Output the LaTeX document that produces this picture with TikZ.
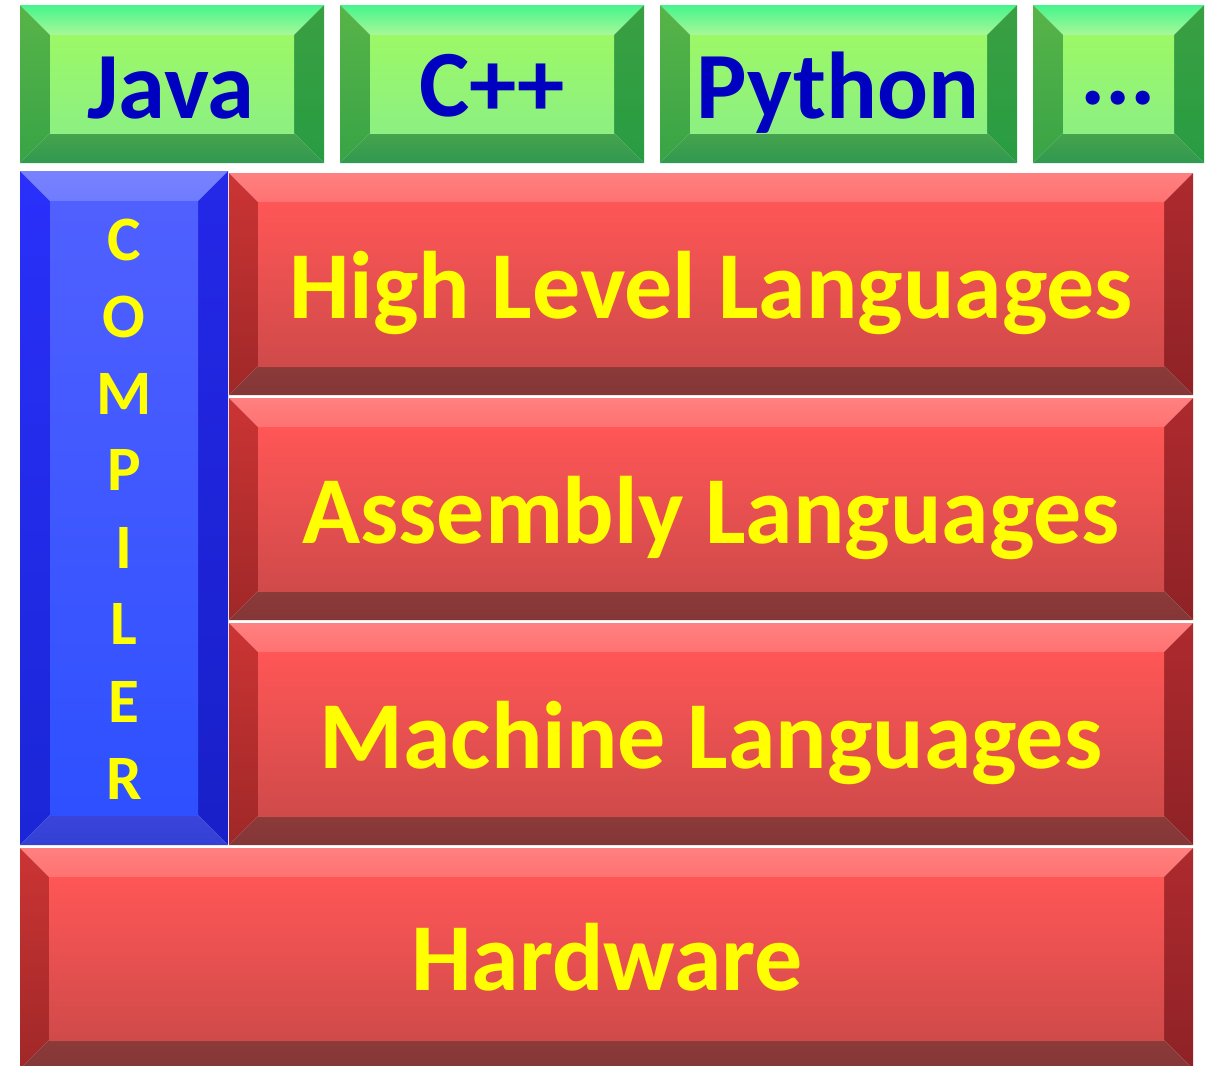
\documentclass[tikz,border=0pt]{standalone}
\usepackage{fontspec}
\setmainfont{Carlito}
\usetikzlibrary{calc}

% palettes: green (languages), blue (compiler), red (layers)
\definecolor{grtopA}{HTML}{45F58C}\definecolor{grtopB}{HTML}{A8F898}
\definecolor{grleftA}{HTML}{58B448}\definecolor{grleftM}{HTML}{82C448}\definecolor{grleftB}{HTML}{38A446}
\definecolor{grrightA}{HTML}{3AA042}\definecolor{grrightM}{HTML}{7CB840}\definecolor{grrightB}{HTML}{289C42}
\definecolor{grbotA}{HTML}{46A44C}\definecolor{grbotB}{HTML}{309850}
\definecolor{grinA}{HTML}{9CF866}\definecolor{grinM}{HTML}{C0FB66}\definecolor{grinB}{HTML}{8CF082}

\definecolor{bltopA}{HTML}{7882FF}\definecolor{bltopB}{HTML}{6E7CFF}
\definecolor{blleftA}{HTML}{2A30FA}\definecolor{blleftM}{HTML}{2430EC}\definecolor{blleftB}{HTML}{1A26D6}
\definecolor{blrightA}{HTML}{2428E8}\definecolor{blrightM}{HTML}{2026DC}\definecolor{blrightB}{HTML}{1820C8}
\definecolor{blbotA}{HTML}{3A44DC}\definecolor{blbotB}{HTML}{3440D4}
\definecolor{blinA}{HTML}{5060FF}\definecolor{blinM}{HTML}{4458FF}\definecolor{blinB}{HTML}{2E50FF}

\definecolor{rdtopA}{HTML}{FF8080}\definecolor{rdtopB}{HTML}{FF7272}
\definecolor{rdleftA}{HTML}{CC3434}\definecolor{rdleftM}{HTML}{B82E30}\definecolor{rdleftB}{HTML}{A02828}
\definecolor{rdrightA}{HTML}{AE2A2E}\definecolor{rdrightM}{HTML}{9E262A}\definecolor{rdrightB}{HTML}{8E2226}
\definecolor{rdbotA}{HTML}{8C3A3A}\definecolor{rdbotB}{HTML}{843636}
\definecolor{rdinA}{HTML}{FF5656}\definecolor{rdinM}{HTML}{E85050}\definecolor{rdinB}{HTML}{D04A4A}

\definecolor{langblue}{HTML}{0000C0}
\definecolor{labelyellow}{HTML}{FFFF00}

% bevelled box: #1 palette prefix, (#2,#3) top-left, (#4,#5) bottom-right, #6 bevel width
\newcommand{\bevelbox}[6]{%
  \shade[top color=#1topA, bottom color=#1topB]
    (#2,#3) -- (#4,#3) -- (#4-#6,#3+#6) -- (#2+#6,#3+#6) -- cycle;
  \shade[top color=#1leftA, middle color=#1leftM, bottom color=#1leftB]
    (#2,#3) -- (#2+#6,#3+#6) -- (#2+#6,#5-#6) -- (#2,#5) -- cycle;
  \shade[top color=#1rightA, middle color=#1rightM, bottom color=#1rightB]
    (#4,#3) -- (#4-#6,#3+#6) -- (#4-#6,#5-#6) -- (#4,#5) -- cycle;
  \shade[top color=#1botA, bottom color=#1botB]
    (#2,#5) -- (#2+#6,#5-#6) -- (#4-#6,#5-#6) -- (#4,#5) -- cycle;
  \shade[top color=#1inA, middle color=#1inM, bottom color=#1inB]
    (#2+#6,#3+#6) rectangle (#4-#6,#5-#6);
}

\tikzset{
  lang/.style={anchor=base, text=langblue, font=\fontsize{54}{54}\selectfont\bfseries, inner sep=0pt},
  layer/.style={anchor=base, text=labelyellow, font=\fontsize{54.6}{54.6}\selectfont\bfseries, inner sep=0pt},
  comp/.style={anchor=base, text=labelyellow, font=\fontsize{36}{36}\selectfont\bfseries, inner sep=0pt},
}

\begin{document}
\begin{tikzpicture}[x=0.02cm, y=-0.02cm]
  \useasboundingbox (0,0) rectangle (1209,1065);
  \fill[white] (0,0) rectangle (1209,1065);

  % language boxes
  \bevelbox{gr}{20}{5}{324}{163}{30}
  \bevelbox{gr}{340}{5}{644}{163}{30}
  \bevelbox{gr}{660}{5}{1017}{163}{30}
  \bevelbox{gr}{1033}{5}{1204}{163}{30}

  % compiler column
  \bevelbox{bl}{20}{171}{228}{845}{30}

  % layers
  \bevelbox{rd}{229}{173}{1193}{395}{29}
  \bevelbox{rd}{229}{398}{1193}{620}{29}
  \bevelbox{rd}{229}{623}{1193}{845}{29}
  \begin{scope}
    \clip (0,0) rectangle (1209,1065);
    \bevelbox{rd}{20}{848}{1193}{1069}{29}
  \end{scope}

  % labels
  \node[lang] (java) at (171,118) {Java};
  \node[lang] (cpp) at (492,116) {C++};
  \node[lang] (python) at (838,118) {Python};
  \node[lang] (more) at (1118,104) {...};

  \node[layer] (hll) at (711,318) {High Level Languages};
  \node[layer] (asm) at (711,543) {Assembly Languages};
  \node[layer] (mach) at (711,768) {Machine Languages};
  \node[layer] (hw) at (607,990) {Hardware};

  \node[comp] (c1) at (124,260) {C};
  \node[comp] (c2) at (124,337) {O};
  \node[comp] (c3) at (124,414) {M};
  \node[comp] (c4) at (124,490) {P};
  \node[comp] (c5) at (124,568) {I};
  \node[comp] (c6) at (124,644) {L};
  \node[comp] (c7) at (124,722) {E};
  \node[comp] (c8) at (124,799) {R};
\end{tikzpicture}
\end{document}
